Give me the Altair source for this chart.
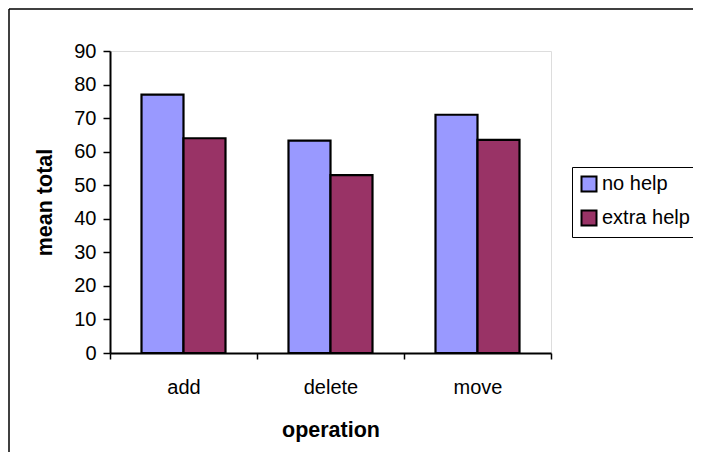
import altair as alt
import pandas as pd

operations = ["add", "delete", "move"]
series = ["no help", "extra help"]
no_help = [77, 63.3, 71]
extra_help = [64, 53, 63.5]
colors = ["#9999FF", "#993366"]
y_ticks = [0, 10, 20, 30, 40, 50, 60, 70, 80, 90]

rows = []
for i, op in enumerate(operations):
    rows.append({"operation": op, "series": series[0], "value": no_help[i]})
    rows.append({"operation": op, "series": series[1], "value": extra_help[i]})
df = pd.DataFrame(rows)

FONT = "Liberation Sans"
FS = 20
TFS = 21.5
W, H = 441, 302

bars = alt.Chart(df).mark_bar(stroke="black", strokeWidth=2.2).encode(
    x=alt.X(
        "operation:N",
        sort=operations,
        scale=alt.Scale(paddingInner=0, paddingOuter=0),
        axis=alt.Axis(
            title="operation",
            labelAngle=0,
            tickBand="extent",
            tickSize=6,
            tickColor="black",
            tickWidth=1.5,
            domainColor="black",
            domainWidth=2,
            labelFont=FONT,
            labelFontSize=FS,
            labelColor="black",
            labelPadding=18,
            titleFont=FONT,
            titleFontSize=TFS,
            titleFontWeight="bold",
            titleColor="black",
            titlePadding=22,
        ),
    ),
    xOffset=alt.XOffset(
        "series:N",
        sort=series,
        scale=alt.Scale(domain=series, paddingInner=0, paddingOuter=0.75),
    ),
    y=alt.Y(
        "value:Q",
        scale=alt.Scale(domain=[0, 90], nice=False),
        axis=alt.Axis(
            title="mean total",
            values=y_ticks,
            grid=False,
            tickSize=7,
            tickColor="black",
            tickWidth=1.5,
            domainColor="black",
            domainWidth=2,
            labelFont=FONT,
            labelFontSize=FS,
            labelColor="black",
            labelPadding=7,
            titleFont=FONT,
            titleFontSize=TFS,
            titleFontWeight="bold",
            titleColor="black",
            titlePadding=17,
        ),
    ),
    color=alt.Color(
        "series:N",
        sort=series,
        scale=alt.Scale(domain=series, range=colors),
        legend=alt.Legend(
            title=None,
            orient="none",
            legendX=462,
            legendY=116,
            direction="vertical",
            fillColor="white",
            strokeColor="black",
            padding=7,
            symbolType="square",
            symbolSize=225,
            symbolStrokeColor="black",
            symbolStrokeWidth=2,
            symbolOpacity=1,
            labelFont=FONT,
            labelFontSize=FS,
            labelColor="black",
            labelOffset=3,
            rowPadding=10,
        ),
    ),
)

one = alt.Data(values=[{"k": 1}])
border_left = alt.Chart(one).mark_rule(color="black", strokeWidth=1.5).encode(
    x=alt.value(-101), y=alt.value(-42), y2=alt.value(500)
)
border_top = alt.Chart(one).mark_rule(color="black", strokeWidth=1.5).encode(
    x=alt.value(-101), x2=alt.value(700), y=alt.value(-42)
)

chart = (
    alt.layer(border_left, border_top, bars)
    .properties(
        width=W,
        height=H,
        autosize=alt.AutoSizeParams(type="none"),
        padding={"left": 102, "top": 43, "right": 142, "bottom": 99},
    )
    .configure_view(stroke="#808080", strokeWidth=2)
    .configure(background="white")
)

chart.save("out.html", embed_options={"renderer": "svg", "actions": False})
